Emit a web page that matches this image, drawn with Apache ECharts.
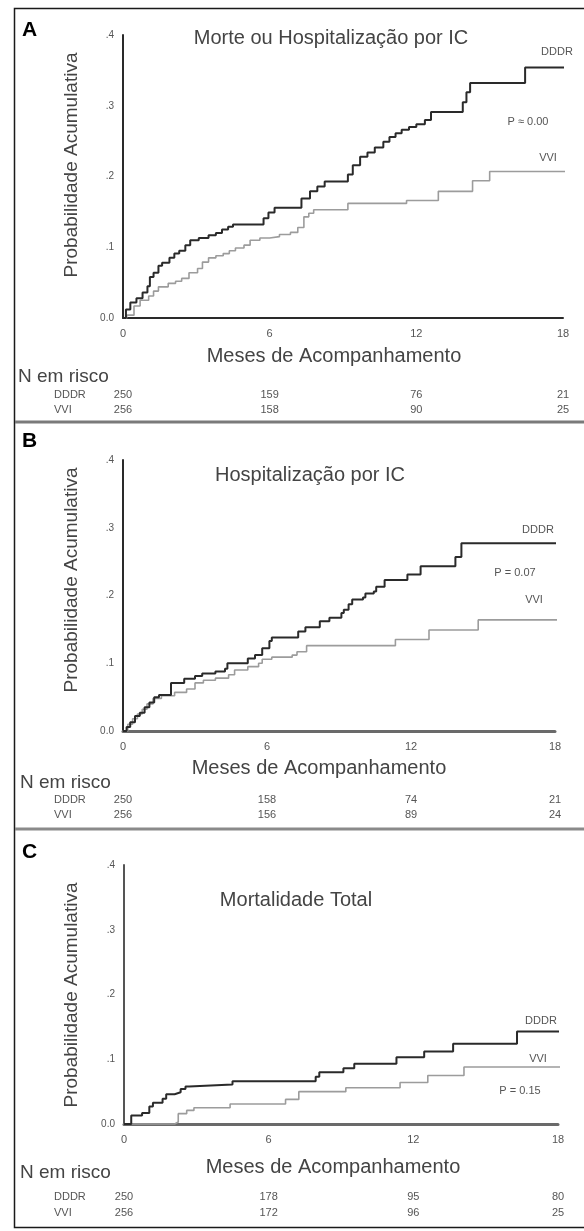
<!DOCTYPE html>
<html>
<head>
<meta charset="utf-8">
<script src="https://cdn.jsdelivr.net/npm/echarts@6/dist/echarts.min.js"></script>
<style>
  html, body { margin: 0; padding: 0; background: #fff; }
  #chart { width: 584px; height: 1231px; }
</style>
</head>
<body>
<div id="chart"></div>
<script>
// eixos
const monthTicks = [0, 6, 12, 18]
const probMax = 0.4

// A - Morte ou Hospitalização por IC  [mês, probabilidade]
const mortHospDDDR = [[0, 0], [0.12, 0.012], [0.3, 0.022], [0.55, 0.028], [0.8, 0.036], [1.0, 0.045], [1.1, 0.058], [1.25, 0.064], [1.45, 0.074], [1.6, 0.078], [1.9, 0.085], [2.1, 0.091], [2.3, 0.095], [2.55, 0.103], [2.75, 0.11], [3.1, 0.113], [3.5, 0.117], [3.8, 0.12], [4.05, 0.125], [4.3, 0.129], [4.5, 0.132], [5.75, 0.141], [5.95, 0.149], [6.2, 0.156], [7.3, 0.169], [7.65, 0.179], [7.95, 0.186], [8.25, 0.193], [9.2, 0.203], [9.4, 0.216], [9.7, 0.228], [10.0, 0.234], [10.3, 0.241], [10.65, 0.249], [10.9, 0.256], [11.15, 0.261], [11.4, 0.266], [11.7, 0.27], [12.0, 0.274], [12.35, 0.28], [12.6, 0.291], [13.9, 0.305], [14.05, 0.319], [14.2, 0.332], [16.45, 0.354], [18.55, 0.354]]
const mortHospVVI = [[0, 0], [0.15, 0.004], [0.45, 0.017], [0.7, 0.025], [1.05, 0.031], [1.25, 0.038], [1.45, 0.044], [1.85, 0.049], [2.15, 0.052], [2.4, 0.056], [2.7, 0.064], [3.05, 0.07], [3.25, 0.079], [3.5, 0.085], [3.8, 0.088], [4.1, 0.091], [4.35, 0.095], [4.6, 0.099], [4.95, 0.103], [5.2, 0.11], [5.6, 0.113], [6.0, 0.115], [6.4, 0.118], [6.85, 0.121], [7.15, 0.128], [7.4, 0.143], [7.6, 0.148], [7.8, 0.153], [9.2, 0.162], [11.6, 0.166], [12.9, 0.179], [14.3, 0.194], [15.0, 0.207], [18.55, 0.207]]

// B - Hospitalização por IC
const hospDDDR = [[0, 0], [0.15, 0.006], [0.3, 0.013], [0.5, 0.022], [0.7, 0.027], [0.9, 0.035], [1.1, 0.042], [1.3, 0.05], [1.5, 0.053], [2.0, 0.071], [2.55, 0.077], [3.0, 0.081], [3.3, 0.085], [3.85, 0.088], [4.25, 0.092], [4.35, 0.1], [5.2, 0.107], [5.5, 0.112], [5.8, 0.122], [6.1, 0.133], [6.2, 0.138], [7.3, 0.147], [7.6, 0.153], [8.2, 0.162], [8.6, 0.167], [9.1, 0.174], [9.2, 0.179], [9.4, 0.187], [9.55, 0.194], [10.0, 0.197], [10.1, 0.203], [10.45, 0.206], [10.55, 0.213], [10.9, 0.223], [11.85, 0.231], [12.4, 0.243], [13.85, 0.257], [14.1, 0.277], [18.3, 0.277]]
const hospVVI = [[0, 0], [0.2, 0.01], [0.4, 0.018], [0.6, 0.025], [0.8, 0.032], [1.0, 0.04], [1.25, 0.048], [1.6, 0.052], [2.15, 0.057], [2.65, 0.062], [3.0, 0.071], [3.35, 0.075], [3.85, 0.078], [4.4, 0.083], [4.65, 0.09], [5.2, 0.095], [5.65, 0.1], [5.8, 0.106], [6.2, 0.109], [7.05, 0.112], [7.25, 0.117], [7.65, 0.126], [11.35, 0.135], [12.75, 0.149], [14.8, 0.164], [18.3, 0.164]]

// C - Mortalidade Total
const mortDDDR = [[0, 0], [0.3, 0.013], [0.75, 0.017], [1.05, 0.027], [1.2, 0.033], [1.6, 0.039], [1.75, 0.046], [2.1, 0.049], [2.35, 0.054], [2.55, 0.058], [2.7, 0.061], [4.5, 0.066], [7.95, 0.073], [8.1, 0.08], [9.1, 0.086], [9.55, 0.093], [11.3, 0.103], [12.45, 0.112], [13.65, 0.124], [16.3, 0.143], [18.4, 0.143]]
const mortVVI = [[0, 0], [2.1, 0.003], [2.25, 0.016], [2.6, 0.021], [2.9, 0.025], [4.4, 0.031], [6.7, 0.038], [7.25, 0.05], [9.2, 0.056], [11.45, 0.064], [12.6, 0.075], [14.1, 0.088], [18.4, 0.088]]

// N em risco (0, 6, 12, 18 meses)
const riskA_DDDR = [250, 159, 76, 21]
const riskA_VVI = [256, 158, 90, 25]
const riskB_DDDR = [250, 158, 74, 21]
const riskB_VVI = [256, 156, 89, 24]
const riskC_DDDR = [250, 178, 95, 80]
const riskC_VVI = [256, 172, 96, 25]

const FONT = '"Liberation Sans", Arial, sans-serif'

const panels = [
  {
    letter: 'A', title: 'Morte ou Hospitalização por IC',
    grid: { left: 123, top: 35, width: 440, height: 283 },
    axisColor: '#2a2a2a', axisWidth: 2,
    ddd: mortHospDDDR, vvi: mortHospVVI, riskD: riskA_DDDR, riskV: riskA_VVI,
    pText: 'P ≈ 0.00',
    letterY: 30, titleX: 331, titleY: 38, yNameY: 165,
    dLab: [557, 52], pLab: [528, 122], vLab: [548, 158],
    mesesX: 334, mesesY: 356, nX: 18, nY: 377, rowY: [395, 410]
  },
  {
    letter: 'B', title: 'Hospitalização por IC',
    grid: { left: 123, top: 460, width: 432, height: 271 },
    axisColor: '#6a6a6a', axisWidth: 3,
    ddd: hospDDDR, vvi: hospVVI, riskD: riskB_DDDR, riskV: riskB_VVI,
    pText: 'P = 0.07',
    letterY: 441, titleX: 310, titleY: 475, yNameY: 580,
    dLab: [538, 530], pLab: [515, 573], vLab: [534, 600],
    mesesX: 319, mesesY: 768, nX: 20, nY: 783, rowY: [800, 815]
  },
  {
    letter: 'C', title: 'Mortalidade Total',
    grid: { left: 124, top: 865, width: 434, height: 259 },
    axisColor: '#6a6a6a', axisWidth: 3,
    ddd: mortDDDR, vvi: mortVVI, riskD: riskC_DDDR, riskV: riskC_VVI,
    pText: 'P = 0.15',
    letterY: 852, titleX: 296, titleY: 900, yNameY: 995,
    dLab: [541, 1021], pLab: [520, 1091], vLab: [538, 1059],
    mesesX: 333, mesesY: 1167, nX: 20, nY: 1173, rowY: [1197, 1213]
  }
]

function txt (x, y, text, size, color, align, extra) {
  return Object.assign({
    type: 'text',
    x: x,
    y: y,
    silent: true,
    style: {
      text: text,
      fill: color,
      font: size + 'px ' + FONT,
      align: align || 'center',
      verticalAlign: 'middle'
    }
  }, extra || {})
}

const chart = echarts.init(document.getElementById('chart'))

const option = {
  animation: false,
  backgroundColor: '#fff',
  grid: panels.map(p => p.grid),
  xAxis: panels.map((p, i) => ({
    type: 'value',
    gridIndex: i,
    min: monthTicks[0],
    max: monthTicks[monthTicks.length - 1],
    interval: 6,
    axisLine: { lineStyle: { color: p.axisColor, width: p.axisWidth } },
    axisTick: { show: false },
    splitLine: { show: false },
    axisLabel: { color: '#555', fontSize: 11, fontFamily: FONT, margin: 10 }
  })),
  yAxis: panels.map((p, i) => ({
    type: 'value',
    gridIndex: i,
    min: 0,
    max: probMax,
    interval: 0.1,
    axisLine: { show: true, lineStyle: { color: i === 2 ? '#555' : '#2a2a2a', width: 2 } },
    axisTick: { show: false },
    splitLine: { show: false },
    axisLabel: {
      color: '#555',
      fontSize: 10,
      fontFamily: FONT,
      margin: 9,
      // 0.0, .1, .2 ...
      formatter: v => (v === 0 ? '0.0' : '.' + Math.round(v * 10))
    }
  })),
  series: []
}

panels.forEach((p, i) => {
  option.series.push({
    name: 'VVI',
    type: 'line',
    step: 'end',
    xAxisIndex: i,
    yAxisIndex: i,
    showSymbol: false,
    clip: false,
    data: p.vvi,
    lineStyle: { color: '#9c9c9c', width: 1.6 }
  })
  option.series.push({
    name: 'DDDR',
    type: 'line',
    step: 'end',
    xAxisIndex: i,
    yAxisIndex: i,
    showSymbol: false,
    clip: false,
    data: p.ddd,
    lineStyle: { color: '#2a2a2a', width: 2 }
  })
})

chart.setOption(option)

// textos e moldura
const graphics = [
  {
    type: 'rect',
    silent: true,
    shape: { x: 14.5, y: 8.5, width: 620, height: 1219 },
    style: { fill: 'none', stroke: '#1a1a1a', lineWidth: 1.5 }
  },
  { type: 'line', silent: true, shape: { x1: 15, y1: 422, x2: 584, y2: 422 }, style: { stroke: '#7a7a7a', lineWidth: 3 } },
  { type: 'line', silent: true, shape: { x1: 15, y1: 829, x2: 584, y2: 829 }, style: { stroke: '#8a8a8a', lineWidth: 3 } }
]

panels.forEach((p, i) => {
  graphics.push(txt(22, p.letterY, p.letter, 21, '#000', 'left', { style: { text: p.letter, fill: '#000', font: 'bold 21px ' + FONT, align: 'left', verticalAlign: 'middle' } }))
  graphics.push(txt(p.titleX, p.titleY, p.title, 20, '#444'))
  graphics.push(txt(72, p.yNameY, 'Probabilidade Acumulativa', 19, '#444', 'center', { rotation: Math.PI / 2 }))
  graphics.push(txt(p.dLab[0], p.dLab[1], 'DDDR', 11, '#555'))
  graphics.push(txt(p.pLab[0], p.pLab[1], p.pText, 11, '#555'))
  graphics.push(txt(p.vLab[0], p.vLab[1], 'VVI', 11, '#555'))
  graphics.push(txt(p.mesesX, p.mesesY, 'Meses de Acompanhamento', 20, '#444'))
  graphics.push(txt(p.nX, p.nY, 'N em risco', 19, '#444', 'left'))
  graphics.push(txt(54, p.rowY[0], 'DDDR', 11, '#555', 'left'))
  graphics.push(txt(54, p.rowY[1], 'VVI', 11, '#555', 'left'))
  monthTicks.forEach((m, k) => {
    const x = chart.convertToPixel({ xAxisIndex: i }, m)
    graphics.push(txt(x, p.rowY[0], String(p.riskD[k]), 11, '#555'))
    graphics.push(txt(x, p.rowY[1], String(p.riskV[k]), 11, '#555'))
  })
})

chart.setOption({ graphic: graphics })
</script>
</body>
</html>
